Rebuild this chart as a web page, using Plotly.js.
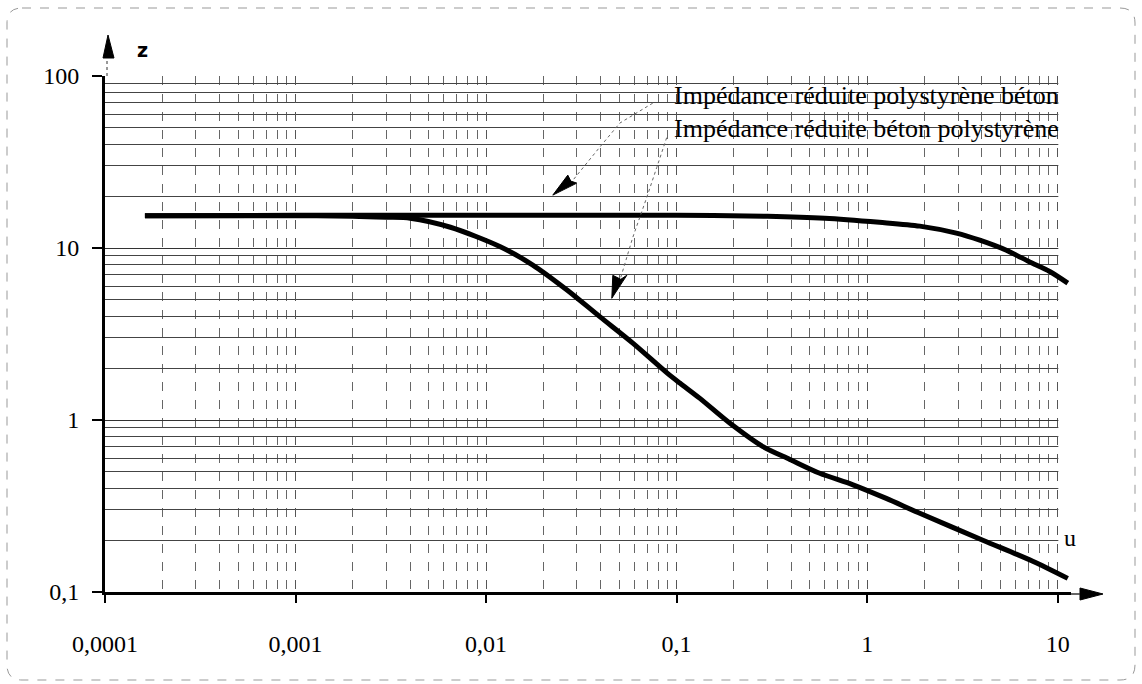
<!DOCTYPE html>
<html><head><meta charset="utf-8">
<script src="https://cdn.plot.ly/plotly-3.0.1.min.js"></script>
<style>html,body{margin:0;padding:0;background:#fff}</style>
</head><body><div id="chart" style="width:1142px;height:684px"></div>
<script>
// ---- data ----
const xTickVals = [0.0001, 0.001, 0.01, 0.1, 1, 10];
const xTickText = ['0,0001', '0,001', '0,01', '0,1', '1', '10'];
const yTickVals = [0.1, 1, 10, 100];
const yTickText = ['0,1', '1', '10', '100'];

const uPolyBeton = [0.000162, 0.001, 0.01, 0.1, 0.3, 0.6, 1.16, 1.89, 2.94, 3.9, 5.38, 7.13, 9.08, 11.3];
const zPolyBeton = [15.4, 15.5, 15.5, 15.5, 15.3, 14.9, 14.1, 13.4, 12.2, 11.1, 9.7, 8.3, 7.3, 6.25];

const uBetonPoly = [0.000162, 0.001, 0.002, 0.003, 0.004, 0.0065, 0.0118, 0.0176, 0.0266, 0.0395, 0.0589, 0.089, 0.104, 0.132, 0.19, 0.284, 0.393, 0.564, 0.843, 1.26, 1.85, 4.05, 7.4, 11.3];
const zBetonPoly = [15.4, 15.4, 15.3, 15.1, 14.9, 13.2, 10.2, 7.96, 5.7, 3.99, 2.8, 1.88, 1.64, 1.34, 0.96, 0.70, 0.59, 0.49, 0.42, 0.35, 0.29, 0.20, 0.151, 0.12];

const labelPolyBeton = 'Impédance réduite polystyrène béton';
const labelBetonPoly = 'Impédance réduite béton polystyrène';
const pointerPolyBeton = {u: 0.0224, z: 20.3};
const pointerBetonPoly = {u: 0.0457, z: 5.1};

// ---- chart ----
const xRange = [-4, 1.07];
const yRange = [-1, 2];
const serif = '"Liberation Serif", "Times New Roman", serif';

const traces = [
  {x: uPolyBeton, y: zPolyBeton, mode: 'lines', line: {color: '#000', width: 5, shape: 'spline', smoothing: 0.8}, name: labelPolyBeton, hoverinfo: 'skip'},
  {x: uBetonPoly, y: zBetonPoly, mode: 'lines', line: {color: '#000', width: 5, shape: 'spline', smoothing: 0.8}, name: labelBetonPoly, hoverinfo: 'skip'}
];

const layout = {
  width: 1142, height: 684,
  margin: {l: 105, r: 71, t: 76, b: 92},
  paper_bgcolor: '#fff', plot_bgcolor: '#fff',
  showlegend: false,
  font: {family: serif, color: '#000', size: 23},
  xaxis: {
    type: 'log', range: xRange,
    tickvals: xTickVals, ticktext: xTickText,
    showgrid: true, gridcolor: '#555', gridwidth: 1, griddash: 'dash',
    minor: {dtick: 'D1', showgrid: true, gridcolor: '#666', gridwidth: 1, griddash: 'dash', ticks: ''},
    showline: true, linecolor: '#000', linewidth: 3,
    ticks: 'outside', ticklen: 8, tickwidth: 2, tickcolor: '#000',
    ticklabelstandoff: 20,
    zeroline: false,
    tickfont: {family: serif, size: 24, color: '#000'}
  },
  yaxis: {
    type: 'log', range: yRange,
    tickvals: yTickVals, ticktext: yTickText,
    showgrid: true, gridcolor: '#333', gridwidth: 1,
    minor: {dtick: 'D1', showgrid: true, gridcolor: '#444', gridwidth: 1, ticks: ''},
    showline: true, linecolor: '#000', linewidth: 3,
    ticks: 'outside', ticklen: 10, tickwidth: 2, tickcolor: '#000',
    ticklabelstandoff: 8,
    zeroline: false,
    tickfont: {family: serif, size: 24, color: '#000'}
  },
  annotations: [
    {xref: 'x', x: Math.log10(10), xanchor: 'right', xshift: 3, yref: 'paper', y: 1, yanchor: 'middle', yshift: -19,
     text: labelPolyBeton, showarrow: false, font: {family: serif, size: 26, color: '#000'}},
    {xref: 'x', x: Math.log10(10), xanchor: 'right', xshift: 3, yref: 'paper', y: 1, yanchor: 'middle', yshift: -52,
     text: labelBetonPoly, showarrow: false, font: {family: serif, size: 26, color: '#000'}},
    {xref: 'paper', x: 0, xshift: 30, yref: 'paper', y: 1, yshift: 39, text: '<b>z</b>', showarrow: false,
     font: {family: '"DejaVu Sans", sans-serif', size: 19, color: '#000'}},
    {xref: 'paper', x: 1, xshift: 7, yref: 'paper', y: 0, yshift: 39, text: 'u', showarrow: false,
     font: {family: serif, size: 24, color: '#000'}}
  ],
  shapes: [
    // hide grid beyond u = 10
    {type: 'rect', layer: 'between', xref: 'x', yref: 'y', x0: 10.08, x1: Math.pow(10, xRange[1]) * 1.02,
     y0: 0.1005, y1: 101, fillcolor: '#fff', line: {width: 0}},
    // y axis arrow
    {type: 'path', xref: 'paper', yref: 'paper', xsizemode: 'pixel', ysizemode: 'pixel', xanchor: 0, yanchor: 1,
     path: 'M-2,18 L3,41 L9,18 Z', fillcolor: '#000', line: {color: '#000', width: 1}},
    {type: 'line', xref: 'paper', yref: 'paper', xsizemode: 'pixel', ysizemode: 'pixel', xanchor: 0, yanchor: 1,
     x0: 2, x1: 2, y0: 0, y1: 18, line: {color: '#333', width: 1, dash: 'dot'}},
    // x axis arrow
    {type: 'path', xref: 'paper', yref: 'paper', xsizemode: 'pixel', ysizemode: 'pixel', xanchor: 1, yanchor: 0,
     path: 'M9,4 L32,-2 L9,-8 Z', fillcolor: '#000', line: {color: '#000', width: 1}},
    {type: 'line', xref: 'paper', yref: 'paper', xsizemode: 'pixel', ysizemode: 'pixel', xanchor: 1, yanchor: 0,
     x0: 0, x1: 9, y0: -2, y1: -2, line: {color: '#333', width: 1.5}},
    // pointer arrow to polystyrene/beton curve
    {type: 'path', xref: 'x', yref: 'y', xsizemode: 'pixel', ysizemode: 'pixel',
     xanchor: pointerPolyBeton.u, yanchor: pointerPolyBeton.z,
     path: 'M0,0 L15,20 L18,14 L24,12 Z', fillcolor: '#000', line: {color: '#000', width: 1}},
    {type: 'path', xref: 'x', yref: 'y', xsizemode: 'pixel', ysizemode: 'pixel',
     xanchor: pointerPolyBeton.u, yanchor: pointerPolyBeton.z,
     path: 'M21,16 L47,48 L67,72 L100,92', line: {color: '#666', width: 1, dash: 'dot'}},
    // pointer arrow to beton/polystyrene curve
    {type: 'path', xref: 'x', yref: 'y', xsizemode: 'pixel', ysizemode: 'pixel',
     xanchor: pointerBetonPoly.u, yanchor: pointerBetonPoly.z,
     path: 'M0,0 L1,23 L9,19 L15,23 Z', fillcolor: '#000', line: {color: '#000', width: 1}},
    {type: 'path', xref: 'x', yref: 'y', xsizemode: 'pixel', ysizemode: 'pixel',
     xanchor: pointerBetonPoly.u, yanchor: pointerBetonPoly.z,
     path: 'M9,21 L21,61 L35,101 L45,131 L55,161', line: {color: '#666', width: 1, dash: 'dot'}},
    // dashed rounded frame around the figure
    {type: 'path', xref: 'paper', yref: 'paper', xsizemode: 'pixel', ysizemode: 'pixel', xanchor: 0, yanchor: 0,
     path: 'M-83,584 L1015,584 Q1030,584 1030,569 L1030,-73 Q1030,-88 1015,-88 L-83,-88 Q-98,-88 -98,-73 L-98,569 Q-98,584 -83,584 Z',
     line: {color: '#999', width: 1, dash: 'dash'}, fillcolor: 'rgba(0,0,0,0)'}
  ]
};

Plotly.newPlot('chart', traces, layout, {displayModeBar: false, staticPlot: true});
</script>
</body></html>
